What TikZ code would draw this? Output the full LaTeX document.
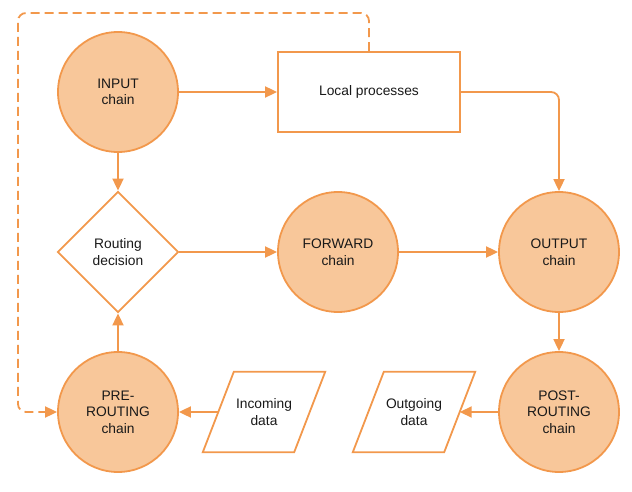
\documentclass[tikz,border=0pt]{standalone}
\usepackage{fontspec}
\setmainfont{Liberation Sans}
\usetikzlibrary{shapes.geometric,arrows.meta,positioning}
\definecolor{chainorange}{RGB}{242,152,76}
\definecolor{chainfill}{RGB}{248,199,154}
\definecolor{labelblack}{RGB}{25,25,25}

\tikzset{
  chain/.style={draw=chainorange, line width=1.8pt, fill=chainfill, circle, minimum size=120pt, inner sep=0pt, align=center, text=labelblack},
  procbox/.style={draw=chainorange, line width=1.8pt, fill=white, rectangle, minimum width=182pt, minimum height=80pt, align=center, text=labelblack},
  decision/.style={draw=chainorange, line width=1.8pt, fill=white, diamond, aspect=1, minimum size=121pt, inner sep=0pt, align=center, text=labelblack},
  datanode/.style={rectangle, minimum width=91pt, minimum height=80pt, inner sep=0pt, align=center, text=labelblack},
  dataedge/.style={draw=chainorange, line width=1.8pt, line join=miter},
  flow/.style={draw=chainorange, line width=1.8pt, rounded corners=8pt, -{Triangle[length=12pt,width=11pt]}},
  dashflow/.style={flow, dash pattern=on 9pt off 5pt}
}
% slanted outline round a data node
\newcommand{\dataoutline}[1]{%
  \draw[dataedge] ([xshift=-15.5pt]#1.south west) -- ([xshift=15.5pt]#1.north west)
    -- ([xshift=15.5pt]#1.north east) -- ([xshift=-15.5pt]#1.south east) -- cycle;}

\begin{document}
\begin{tikzpicture}[x=1pt, y=-1pt, font=\fontsize{13.8}{16.5}\selectfont]
    \useasboundingbox (0,0) rectangle (632,492);

    % Chains
    \node[chain] (input) at (118,92) {INPUT\\chain};
    \node[chain] (forward) at (338,252) {FORWARD\\chain};
    \node[chain] (output) at (559,252) {OUTPUT\\chain};
    \node[chain] (pre) at (118,412) {PRE-\\ROUTING\\chain};
    \node[chain] (post) at (559,412) {POST-\\ROUTING\\chain};

    % Local processes and routing decision
    \node[procbox] (local) at (369,92) {Local processes};
    \node[decision] (routing) at (118,252) {Routing\\decision};

    % Incoming and outgoing data
    \node[datanode] (incoming) at (264,412) {Incoming\\data};
    \node[datanode] (outgoing) at (414,412) {Outgoing\\data};
    \dataoutline{incoming}
    \dataoutline{outgoing}

    % Connectors
    \draw[flow] (input) -- (local);
    \draw[flow] (local.east) -| (output.north);
    \draw[flow] (input) -- (routing);
    \draw[flow] (pre) -- (routing);
    \draw[flow] (routing) -- (forward);
    \draw[flow] (forward) -- (output);
    \draw[flow] (output) -- (post);
    \draw[flow] (post) -- (outgoing);
    \draw[flow] (incoming) -- (pre);

    % Loop back from local processes
    \coordinate (loopcorner) at (18,13);
    \draw[dashflow] (local.north) |- (loopcorner) |- (pre.west);
\end{tikzpicture}
\end{document}
